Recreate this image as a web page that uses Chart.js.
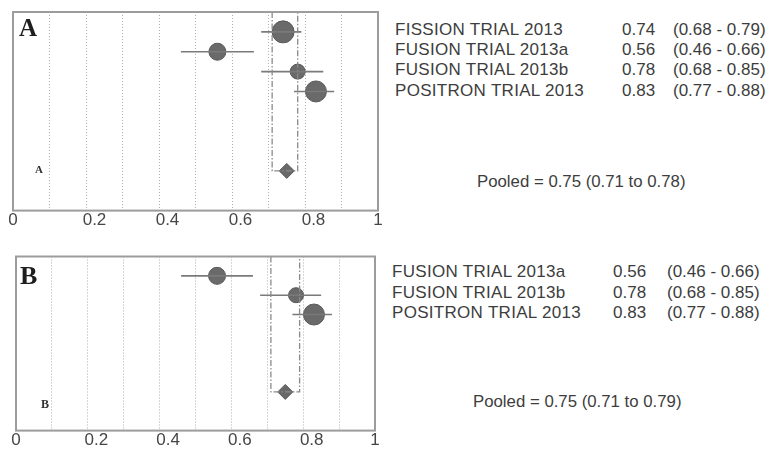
<!DOCTYPE html>
<html>
<head>
<meta charset="utf-8">
<script src="https://cdn.jsdelivr.net/npm/chart.js@4.4.1/dist/chart.umd.min.js"></script>
<style>
  html, body { margin: 0; padding: 0; background: #fff; }
  body { width: 773px; height: 454px; position: relative; overflow: hidden; font-family: "Liberation Sans", Arial, sans-serif; }
  canvas { position: absolute; }
  .t { position: absolute; color: #3d3d3d; font-size: 17px; line-height: 20px; white-space: nowrap; }
  .t.name { letter-spacing: 0.3px; }
  .t.pool { font-size: 16.8px; }
  .big { position: absolute; font-family: "Liberation Serif", "Times New Roman", serif; font-weight: bold; color: #1e1e1e; line-height: 1; }
  .small { position: absolute; font-family: "Liberation Serif", "Times New Roman", serif; font-weight: bold; color: #333; line-height: 1; }
</style>
</head>
<body>
<canvas id="chartA" width="392" height="231" style="left:0;top:0"></canvas>
<canvas id="chartB" width="392" height="206" style="left:0;top:245px"></canvas>
<div id="texts"></div>
<script>
// ---------- data ----------
const studiesA = ["FISSION TRIAL 2013", "FUSION TRIAL 2013a", "FUSION TRIAL 2013b", "POSITRON TRIAL 2013"];
const estA = [0.74, 0.56, 0.78, 0.83];
const lowA = [0.68, 0.46, 0.68, 0.77];
const highA = [0.79, 0.66, 0.85, 0.88];
const pooledA = [0.75, 0.71, 0.78];   // estimate, low, high

const studiesB = ["FUSION TRIAL 2013a", "FUSION TRIAL 2013b", "POSITRON TRIAL 2013"];
const estB = [0.56, 0.78, 0.83];
const lowB = [0.46, 0.68, 0.77];
const highB = [0.66, 0.85, 0.88];
const pooledB = [0.75, 0.71, 0.79];

const xTicks = [0, 0.2, 0.4, 0.6, 0.8, 1];

// ---------- helpers ----------
const ciText = (l, h) => "(" + l.toFixed(2) + " - " + h.toFixed(2) + ")";

const boxPlugin = {
  id: 'boxFrame',
  afterDraw(chart) {
    const a = chart.chartArea, c = chart.ctx;
    c.save();
    c.strokeStyle = '#9c9c9c';
    c.lineWidth = 2;
    c.strokeRect(a.left, a.top, a.right - a.left, a.bottom - a.top);
    c.restore();
  }
};

function makeForest(id, est, low, high, pooled, yMax, pooledRow, radii, pad) {
  const datasets = [];
  // pooled CI dash-dot guide
  datasets.push({
    type: 'line',
    data: [{x: pooled[1], y: 0}, {x: pooled[1], y: pooledRow}, {x: pooled[2], y: pooledRow}, {x: pooled[2], y: 0}],
    borderColor: '#8a8a8a', borderWidth: 1.3, borderDash: [6, 2, 1.5, 2],
    pointRadius: 0, fill: false, tension: 0
  });
  // study CIs
  est.forEach((e, i) => {
    datasets.push({
      type: 'line',
      data: [{x: low[i], y: i + 1}, {x: high[i], y: i + 1}],
      borderColor: '#7a7a7a', borderWidth: 1.6, pointRadius: 0, fill: false
    });
  });
  // study points
  datasets.push({
    type: 'scatter',
    data: est.map((e, i) => ({x: e, y: i + 1})),
    pointRadius: radii, pointHoverRadius: radii,
    backgroundColor: '#6a6a6a', borderColor: '#585858', borderWidth: 1
  });
  // pooled diamond
  datasets.push({
    type: 'scatter',
    data: [{x: pooled[0], y: pooledRow}],
    pointStyle: 'rectRot', pointRadius: 7.5, pointHoverRadius: 7.5,
    backgroundColor: '#686868', borderColor: '#585858', borderWidth: 1
  });

  return new Chart(document.getElementById(id), {
    data: { datasets },
    options: {
      responsive: false, animation: false, events: [],
      layout: { padding: pad },
      plugins: { legend: { display: false }, tooltip: { enabled: false } },
      scales: {
        x: {
          type: 'linear', min: 0, max: 1,
          border: { display: false, dash: [1, 2] },
          grid: {
            drawTicks: false,
            color: ctx => (ctx.tick && (ctx.tick.value <= 0.001 || ctx.tick.value >= 0.999)) ? 'rgba(0,0,0,0)' : 'rgba(110,110,110,0.55)',
            lineWidth: 1
          },
          ticks: {
            stepSize: 0.1, autoSkip: false, maxRotation: 0, padding: 0,
            color: '#464646',
            font: { family: '"Liberation Sans", Arial, sans-serif', size: 17 },
            callback: v => {
              const m = xTicks.find(t => Math.abs(t - v) < 1e-6);
              if (m === undefined) return '';
              // interior labels sit slightly right of their gridline, as in the source figure
              return (m === 0 || m === 1) ? String(m) : '\u2002\u2002' + String(m);
            }
          }
        },
        y: { type: 'linear', min: 0, max: yMax, reverse: true, display: false }
      }
    },
    plugins: [boxPlugin]
  });
}

makeForest('chartA', estA, lowA, highA, pooledA, 10, 8, [11, 8.5, 7.5, 10.5], {left: 13, right: 14, top: 8, bottom: 0});
makeForest('chartB', estB, lowB, highB, pooledB, 9, 7, [8.5, 7.5, 10.5], {left: 16, right: 17, top: 8, bottom: 0});

// ---------- text table ----------
const tx = document.getElementById('texts');
function put(cls, txt, left, top, extra) {
  const d = document.createElement('div');
  d.className = cls; d.textContent = txt;
  d.style.left = left + 'px'; d.style.top = top + 'px';
  if (extra) Object.assign(d.style, extra);
  tx.appendChild(d);
  return d;
}
const rowsA = [20, 40, 60, 81];
studiesA.forEach((s, i) => {
  put('t name', s, 395, rowsA[i]);
  put('t', estA[i].toFixed(2), 622, rowsA[i]);
  put('t', ciText(lowA[i], highA[i]), 673, rowsA[i]);
});
put('t pool', "Pooled = " + pooledA[0].toFixed(2) + " (" + pooledA[1].toFixed(2) + " to " + pooledA[2].toFixed(2) + ")", 477, 172);

const rowsB = [262, 283, 303];
studiesB.forEach((s, i) => {
  put('t name', s, 392, rowsB[i]);
  put('t', estB[i].toFixed(2), 613, rowsB[i]);
  put('t', ciText(lowB[i], highB[i]), 667, rowsB[i]);
});
put('t pool', "Pooled = " + pooledB[0].toFixed(2) + " (" + pooledB[1].toFixed(2) + " to " + pooledB[2].toFixed(2) + ")", 473, 392);

put('big', 'A', 19, 15, {fontSize: '25px'});
put('small', 'A', 35, 164, {fontSize: '11px'});
put('big', 'B', 20, 263, {fontSize: '26px'});
put('small', 'B', 41, 398, {fontSize: '12px'});
</script>
</body>
</html>
